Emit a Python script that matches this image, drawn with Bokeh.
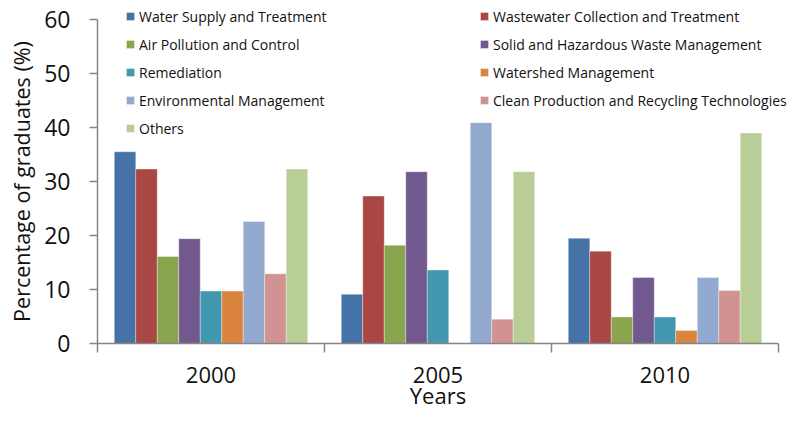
from bokeh.plotting import figure
from bokeh.models import (ColumnDataSource, Legend, LegendItem, FixedTicker,
                          Range1d, CustomJSTickFormatter, LinearAxis)
from bokeh.transform import dodge
from bokeh.embed import file_html
from bokeh.resources import INLINE

# ---- data ----
years = ["2000", "2005", "2010"]
categories = [
    "Water Supply and Treatment",
    "Wastewater Collection and Treatment",
    "Air Pollution and Control",
    "Solid and Hazardous Waste Management",
    "Remediation",
    "Watershed Management",
    "Environmental Management",
    "Clean Production and Recycling Technologies",
    "Others",
]
water_supply = [35.5, 9.1, 19.5]
wastewater = [32.3, 27.3, 17.1]
air_pollution = [16.1, 18.2, 4.9]
solid_waste = [19.4, 31.8, 12.2]
remediation = [9.7, 13.6, 4.9]
watershed = [9.7, 0.0, 2.4]
env_management = [22.6, 40.9, 12.2]
clean_production = [12.9, 4.5, 9.8]
others = [32.3, 31.8, 39.0]
y_ticks = [0, 10, 20, 30, 40, 50, 60]
x_title = "Years"
y_title = "Percentage of graduates (%)"

series = [water_supply, wastewater, air_pollution, solid_waste, remediation,
          watershed, env_management, clean_production, others]
colors = ["#4572A7", "#AA4643", "#89A54E", "#71588F", "#4198AF",
          "#DB843D", "#93A9CF", "#D19392", "#B9CD96"]

FONT = "Open Sans"
AXIS_COL = "#868686"
TEXT_COL = "#111111"

# ---- layout constants (pixels) ----
W, H = 792, 412
AX_LEFT, AX_RIGHT, AX_TOP, AX_BOTTOM = 97, 778, 19, 343   # axes box
FR_TOP = 2                                                 # frame top (room for legend)
y_max = max(y_ticks)
n_groups = len(years)
y_end = y_max * (AX_BOTTOM - FR_TOP) / (AX_BOTTOM - AX_TOP)
x_end = n_groups * (W - AX_LEFT) / (AX_RIGHT - AX_LEFT)

data = {"x": [i + 0.5 for i in range(n_groups)]}
keys = [f"s{i}" for i in range(len(series))]
for k, s in zip(keys, series):
    data[k] = s
source = ColumnDataSource(data)

p = figure(width=W, height=H, output_backend="svg", toolbar_location=None,
           x_range=Range1d(0, x_end), y_range=Range1d(0, y_end),
           min_border_left=AX_LEFT, min_border_right=0, min_border_top=FR_TOP,
           min_border_bottom=H - AX_BOTTOM)
p.outline_line_color = None
p.xgrid.visible = False
p.ygrid.visible = False

bar_w = 0.0947
n = len(series)
renderers = []
for i, (k, c) in enumerate(zip(keys, colors)):
    off = (i - (n - 1) / 2) * bar_w
    r = p.vbar(x=dodge("x", off, range=p.x_range), top=k, width=bar_w,
               bottom=0, source=source, fill_color=c, line_color="white",
               line_width=1, line_alpha=0.35)
    renderers.append(r)

# y axis (ticks + numbers)
ya = p.yaxis[0]
ya.bounds = (0, y_max)
ya.ticker = FixedTicker(ticks=y_ticks, minor_ticks=[])
ya.axis_line_color = AXIS_COL
ya.axis_line_width = 1.5
ya.major_tick_line_color = AXIS_COL
ya.major_tick_line_width = 1.5
ya.major_tick_in = 0
ya.major_tick_out = 8
ya.minor_tick_line_color = None
ya.major_label_text_font = FONT
ya.major_label_text_font_size = "23px"
ya.major_label_text_color = TEXT_COL
ya.major_label_standoff = 19

# y title: an extra label-only axis, centred on the 0..y_max span
yt = LinearAxis(ticker=FixedTicker(ticks=[y_max / 2], minor_ticks=[]),
                formatter=CustomJSTickFormatter(args=dict(t=y_title), code="return t;"),
                axis_line_color=None, major_tick_line_color=None,
                minor_tick_line_color=None, major_tick_in=0, major_tick_out=0,
                major_label_orientation="parallel", major_label_standoff=6,
                major_label_text_font=FONT, major_label_text_font_size="21.5px",
                major_label_text_color=TEXT_COL)
p.add_layout(yt, "left")

# x axis (group boundary ticks + year labels)
xa = p.xaxis[0]
xa.bounds = (0, n_groups)
xa.ticker = FixedTicker(ticks=data["x"], minor_ticks=list(range(n_groups + 1)))
xa.formatter = CustomJSTickFormatter(args=dict(labels=years),
                                     code="return labels[Math.floor(tick)] || '';")
xa.axis_line_color = AXIS_COL
xa.axis_line_width = 1.5
xa.major_tick_line_color = None
xa.major_tick_in = 0
xa.major_tick_out = 0
xa.minor_tick_line_color = AXIS_COL
xa.minor_tick_line_width = 1.5
xa.minor_tick_in = 0
xa.minor_tick_out = 9
xa.major_label_text_font = FONT
xa.major_label_text_font_size = "22px"
xa.major_label_text_color = TEXT_COL
xa.major_label_standoff = 14

# x title: an extra label-only axis, centred on the 0..n_groups span
xt = LinearAxis(ticker=FixedTicker(ticks=[n_groups / 2], minor_ticks=[]),
                formatter=CustomJSTickFormatter(args=dict(t=x_title), code="return t;"),
                axis_line_color=None, major_tick_line_color=None,
                minor_tick_line_color=None, major_tick_in=0, major_tick_out=0,
                major_label_standoff=-6,
                major_label_text_font=FONT, major_label_text_font_size="22px",
                major_label_text_color=TEXT_COL)
p.add_layout(xt, "below")

# legends: two columns
LEG_TOP = 6
ROW_H, ROW_GAP = 20, 8

def make_legend(idx, glyph_left):
    items = [LegendItem(label=categories[i], renderers=[renderers[i]]) for i in idx]
    h = len(idx) * ROW_H + (len(idx) - 1) * ROW_GAP
    loc = (glyph_left - AX_LEFT, AX_BOTTOM - LEG_TOP - h)
    lg = Legend(items=items, location=loc, orientation="vertical",
                label_text_font=FONT, label_text_font_size="14px",
                label_text_color=TEXT_COL, glyph_width=10, glyph_height=10,
                label_standoff=4, spacing=ROW_GAP, label_height=ROW_H, padding=0,
                margin=0, border_line_alpha=0, background_fill_alpha=0)
    p.add_layout(lg)

make_legend([0, 2, 4, 6, 8], 125)
make_legend([1, 3, 5, 7], 479)

open("out.html", "w").write(file_html(p, INLINE))
